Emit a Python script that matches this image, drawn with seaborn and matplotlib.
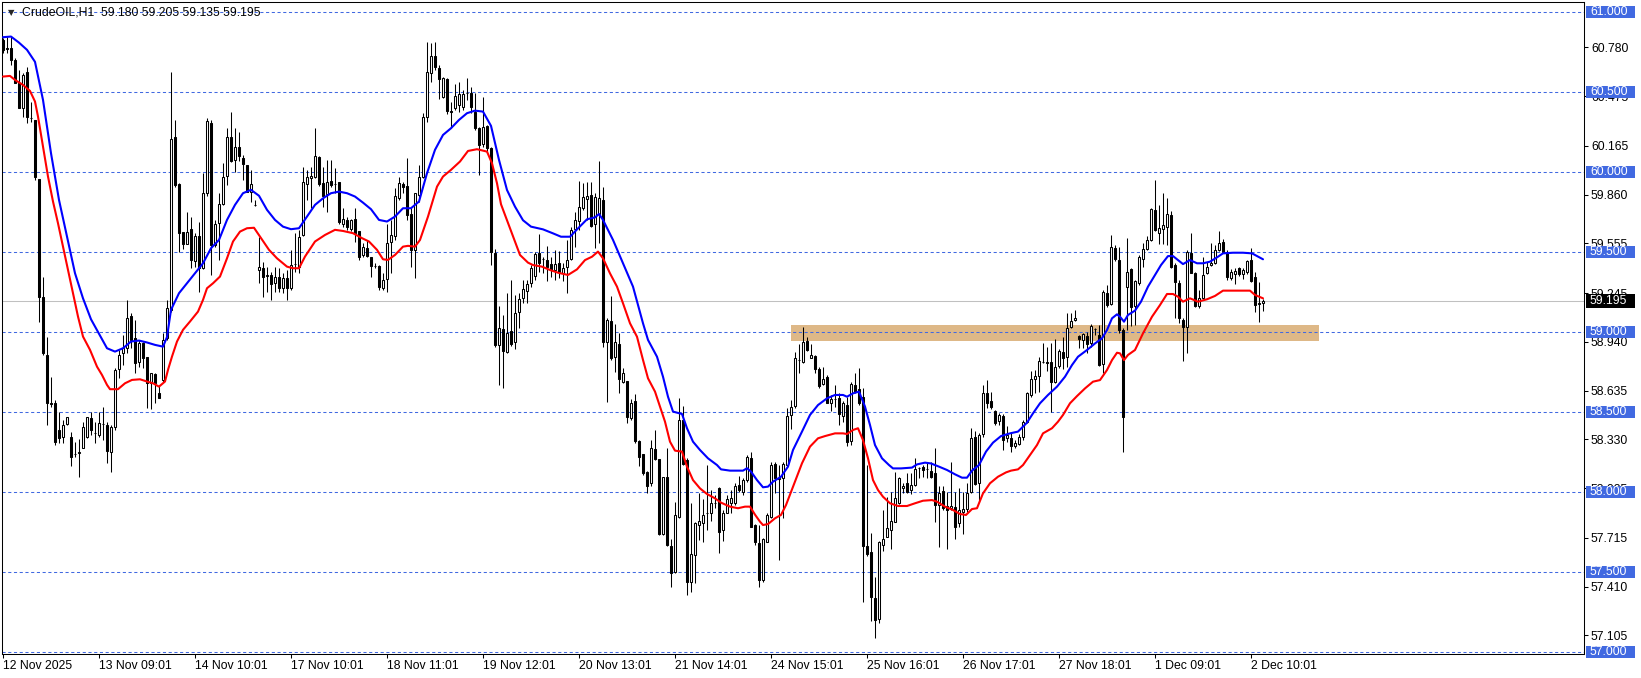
import numpy as np
import pandas as pd
import matplotlib
matplotlib.use("Agg")
import matplotlib.pyplot as plt
from matplotlib.patches import Rectangle
from matplotlib.transforms import blended_transform_factory
import seaborn as sns

symbol = "CrudeOIL,H1"

# H1 candles (one row = 12 bars)
opens = [
    60.827, 60.775, 60.775, 60.702, 60.556, 60.400, 60.629, 60.340, 60.327, 59.956, 59.223, 58.858,
    58.556, 58.556, 58.390, 58.344, 58.425, 58.348, 58.240, 58.244, 58.275, 58.344, 58.462, 58.373,
    58.358, 58.425, 58.421, 58.254, 58.410, 58.769, 58.869, 58.900, 59.102, 58.962, 58.817, 58.931,
    58.844, 58.681, 58.740, 58.619, 58.702, 58.962, 59.140, 60.219, 59.925, 59.625, 59.550, 59.644,
    59.448, 59.602, 59.400, 59.873, 60.306, 59.546, 59.681, 59.800, 59.977, 60.223, 60.077, 60.160,
    60.092, 60.046, 59.879, 59.796, 59.390, 59.400, 59.350, 59.358, 59.306, 59.348, 59.275, 59.337,
    59.275, 59.425, 59.410, 59.608, 59.925, 59.962, 59.973, 60.094, 59.931, 59.864, 59.948, 59.925,
    59.937, 59.675, 59.702, 59.644, 59.706, 59.630, 59.483, 59.525, 59.473, 59.415, 59.417, 59.275,
    59.331, 59.567, 59.602, 59.837, 59.927, 59.917, 59.740, 59.515, 59.858, 59.973, 60.348, 60.619,
    60.729, 60.654, 60.473, 60.581, 60.385, 60.400, 60.421, 60.406, 60.498, 60.498, 60.379, 60.275,
    60.175, 60.290, 60.150, 59.498, 58.921, 59.019, 58.875, 59.008, 58.937, 59.124, 59.212, 59.260,
    59.306, 59.354, 59.493, 59.456, 59.451, 59.424, 59.389, 59.431, 59.372, 59.406, 59.456, 59.643,
    59.695, 59.774, 59.831, 59.858, 59.674, 59.737, 59.826, 58.941, 59.070, 58.843, 58.926, 58.691,
    58.695, 58.462, 58.570, 58.322, 58.239, 58.129, 58.056, 58.270, 58.206, 57.737, 58.097, 57.664,
    57.504, 57.847, 58.451, 58.201, 57.437, 57.608, 57.795, 57.806, 57.868, 57.868, 57.935, 58.024,
    57.764, 57.872, 57.935, 57.931, 58.045, 58.004, 58.076, 58.212, 57.795, 57.681, 57.451, 57.691,
    57.847, 58.174, 58.080, 58.087, 58.170, 58.483, 58.539, 58.826, 58.812, 58.945, 58.841, 58.851,
    58.768, 58.674, 58.718, 58.560, 58.581, 58.587, 58.477, 58.545, 58.322, 58.670, 58.643, 58.597,
    57.666, 57.624, 57.337, 57.210, 57.670, 57.722, 57.764, 57.816, 57.931, 58.024, 58.056, 58.014,
    58.045, 58.149, 58.156, 58.143, 58.135, 58.122, 57.920, 58.008, 57.914, 57.899, 57.906, 57.806,
    57.879, 57.893, 58.004, 58.343, 58.056, 58.364, 58.618, 58.570, 58.508, 58.445, 58.478, 58.337,
    58.337, 58.291, 58.301, 58.343, 58.441, 58.608, 58.706, 58.726, 58.816, 58.816, 58.816, 58.691,
    58.789, 58.875, 58.843, 59.035, 59.076, 58.977, 58.952, 58.977, 58.931, 59.020, 58.983, 58.801,
    59.247, 59.177, 59.529, 59.451, 59.014, 59.285, 59.393, 59.164, 59.306, 59.456, 59.520, 59.576,
    59.764, 59.618, 59.643, 59.660, 59.733, 59.420, 59.306, 59.076, 59.035, 59.497, 59.368, 59.164,
    59.212, 59.368, 59.420, 59.431, 59.514, 59.566, 59.504, 59.337, 59.364, 59.399, 59.362, 59.374,
    59.451, 59.343, 59.174, 59.180,
]
highs = [
    60.837, 60.848, 60.848, 60.712, 60.640, 60.619, 60.660, 60.442, 60.327, 59.956, 59.348, 58.973,
    58.723, 58.577, 58.504, 58.452, 58.473, 58.375, 58.317, 58.331, 58.438, 58.473, 58.504, 58.442,
    58.504, 58.535, 58.442, 58.421, 58.775, 58.890, 58.983, 59.202, 59.119, 59.077, 58.952, 58.942,
    58.848, 58.748, 58.748, 58.671, 58.994, 59.202, 60.629, 60.327, 59.931, 59.625, 59.750, 59.723,
    59.619, 59.692, 59.994, 60.338, 60.327, 59.702, 59.869, 60.056, 60.275, 60.375, 60.275, 60.254,
    60.108, 60.046, 60.015, 59.827, 59.598, 59.442, 59.410, 59.379, 59.410, 59.400, 59.369, 59.390,
    59.514, 59.619, 59.640, 60.035, 60.015, 60.035, 60.275, 60.102, 60.035, 60.077, 60.077, 60.025,
    59.942, 59.775, 59.723, 59.706, 59.775, 59.630, 59.556, 59.577, 59.473, 59.431, 59.421, 59.369,
    59.677, 59.702, 59.900, 59.969, 59.942, 60.087, 59.785, 59.873, 60.046, 60.369, 60.817, 60.806,
    60.817, 60.671, 60.598, 60.587, 60.442, 60.552, 60.567, 60.514, 60.587, 60.535, 60.494, 60.285,
    60.469, 60.296, 60.160, 59.519, 59.161, 59.108, 59.244, 59.326, 59.233, 59.243, 59.326, 59.326,
    59.420, 59.504, 59.614, 59.472, 59.539, 59.472, 59.514, 59.508, 59.431, 59.577, 59.660, 59.754,
    59.945, 59.931, 59.941, 59.937, 59.870, 60.070, 59.910, 59.087, 59.229, 59.049, 58.993, 58.774,
    58.697, 58.581, 58.614, 58.326, 58.239, 58.135, 58.326, 58.389, 58.206, 58.097, 58.274, 57.705,
    57.941, 58.587, 58.541, 58.212, 57.931, 57.816, 57.993, 57.956, 58.170, 58.014, 57.983, 58.031,
    57.889, 57.983, 58.014, 58.056, 58.101, 58.087, 58.233, 58.249, 57.800, 57.795, 57.712, 57.868,
    58.191, 58.191, 58.170, 58.191, 58.529, 58.577, 58.874, 58.926, 59.035, 58.972, 58.926, 58.858,
    58.781, 58.785, 58.733, 58.608, 58.670, 58.618, 58.572, 58.597, 58.687, 58.747, 58.774, 58.649,
    58.170, 57.743, 57.472, 57.695, 57.889, 57.972, 58.004, 58.129, 58.097, 58.056, 58.118, 58.118,
    58.216, 58.160, 58.170, 58.191, 58.191, 58.274, 58.039, 58.039, 58.004, 58.191, 58.000, 58.024,
    58.004, 58.056, 58.399, 58.385, 58.368, 58.670, 58.701, 58.629, 58.514, 58.493, 58.489, 58.414,
    58.379, 58.326, 58.364, 58.451, 58.629, 58.760, 58.764, 58.847, 58.935, 58.910, 58.935, 58.956,
    58.893, 58.972, 59.118, 59.122, 59.139, 58.983, 58.997, 59.003, 59.049, 59.025, 59.045, 59.264,
    59.295, 59.608, 59.545, 59.535, 59.024, 59.587, 59.399, 59.327, 59.483, 59.556, 59.601, 59.774,
    59.951, 59.795, 59.872, 59.841, 59.760, 59.431, 59.327, 59.087, 59.514, 59.618, 59.379, 59.264,
    59.472, 59.441, 59.556, 59.545, 59.633, 59.581, 59.514, 59.393, 59.399, 59.410, 59.399, 59.451,
    59.524, 59.379, 59.316, 59.205,
]
lows = [
    60.744, 60.744, 60.671, 60.556, 60.400, 60.348, 60.306, 60.317, 59.952, 59.067, 58.858, 58.421,
    58.535, 58.296, 58.306, 58.306, 58.421, 58.167, 58.223, 58.094, 58.275, 58.337, 58.358, 58.306,
    58.348, 58.327, 58.185, 58.125, 58.390, 58.712, 58.796, 58.869, 58.900, 58.744, 58.785, 58.775,
    58.525, 58.519, 58.556, 58.587, 58.692, 58.952, 59.129, 59.910, 59.504, 59.519, 59.550, 59.400,
    59.410, 59.254, 59.394, 59.852, 59.358, 59.535, 59.452, 59.796, 59.921, 60.067, 60.004, 60.073,
    59.952, 59.879, 59.817, 59.790, 59.306, 59.223, 59.254, 59.202, 59.254, 59.254, 59.244, 59.202,
    59.265, 59.379, 59.369, 59.602, 59.827, 59.775, 59.962, 59.917, 59.785, 59.750, 59.910, 59.869,
    59.677, 59.660, 59.640, 59.635, 59.567, 59.452, 59.473, 59.473, 59.348, 59.400, 59.265, 59.265,
    59.254, 59.369, 59.577, 59.827, 59.869, 59.702, 59.406, 59.338, 59.817, 59.962, 60.317, 60.567,
    60.640, 60.456, 60.462, 60.365, 60.275, 60.390, 60.379, 60.390, 60.452, 60.373, 60.265, 59.983,
    60.160, 60.119, 59.421, 58.910, 58.671, 58.650, 58.869, 58.914, 58.893, 59.024, 59.181, 59.181,
    59.285, 59.326, 59.379, 59.368, 59.322, 59.347, 59.326, 59.337, 59.322, 59.247, 59.451, 59.535,
    59.639, 59.764, 59.701, 59.660, 59.524, 59.556, 58.906, 58.566, 58.826, 58.754, 58.622, 58.681,
    58.435, 58.451, 58.306, 58.166, 58.108, 57.993, 58.041, 58.201, 57.733, 57.733, 57.666, 57.406,
    57.497, 57.841, 58.170, 57.358, 57.379, 57.431, 57.701, 57.691, 57.764, 57.822, 57.899, 57.618,
    57.697, 57.868, 57.868, 57.920, 58.004, 57.983, 58.066, 57.785, 57.670, 57.406, 57.441, 57.687,
    57.837, 57.997, 57.577, 57.837, 58.160, 58.395, 58.524, 58.743, 58.806, 58.883, 58.837, 58.747,
    58.649, 58.670, 58.556, 58.508, 58.535, 58.420, 58.441, 58.289, 58.295, 58.618, 58.545, 57.312,
    57.601, 57.197, 57.087, 57.185, 57.635, 57.718, 57.643, 57.812, 57.926, 57.993, 57.993, 57.989,
    58.039, 58.091, 58.097, 58.087, 58.087, 57.816, 57.656, 57.889, 57.643, 57.889, 57.706, 57.785,
    57.739, 57.879, 57.993, 58.045, 57.941, 58.347, 58.524, 58.518, 58.420, 58.420, 58.264, 58.316,
    58.254, 58.274, 58.295, 58.326, 58.435, 58.597, 58.622, 58.629, 58.806, 58.758, 58.504, 58.681,
    58.774, 58.768, 58.785, 59.024, 59.072, 58.899, 58.904, 58.868, 58.910, 58.983, 58.789, 58.747,
    59.160, 59.170, 59.447, 58.994, 58.254, 59.014, 59.039, 59.045, 59.295, 59.410, 59.514, 59.572,
    59.635, 59.551, 59.551, 59.545, 59.399, 59.087, 59.056, 58.822, 58.872, 59.368, 59.156, 59.149,
    59.208, 59.364, 59.414, 59.427, 59.510, 59.493, 59.326, 59.326, 59.301, 59.352, 59.331, 59.364,
    59.316, 59.124, 59.066, 59.135,
]
closes = [
    60.765, 60.770, 60.702, 60.556, 60.400, 60.608, 60.348, 60.337, 59.973, 59.223, 58.869, 58.556,
    58.550, 58.317, 58.337, 58.421, 58.469, 58.219, 58.240, 58.254, 58.410, 58.469, 58.390, 58.373,
    58.431, 58.425, 58.260, 58.406, 58.765, 58.858, 58.900, 59.087, 58.952, 58.806, 58.931, 58.837,
    58.681, 58.744, 58.681, 58.587, 58.952, 59.150, 60.206, 59.921, 59.619, 59.550, 59.625, 59.452,
    59.604, 59.400, 59.869, 60.321, 59.546, 59.675, 59.800, 59.969, 60.223, 60.073, 60.160, 60.102,
    60.052, 59.879, 59.925, 59.796, 59.406, 59.344, 59.355, 59.302, 59.348, 59.275, 59.337, 59.275,
    59.421, 59.425, 59.598, 59.937, 59.969, 59.977, 60.102, 59.925, 59.854, 59.937, 59.921, 59.925,
    59.687, 59.706, 59.660, 59.702, 59.619, 59.473, 59.535, 59.477, 59.417, 59.415, 59.285, 59.327,
    59.556, 59.608, 59.852, 59.935, 59.910, 59.733, 59.515, 59.869, 59.973, 60.348, 60.629, 60.729,
    60.660, 60.581, 60.587, 60.385, 60.375, 60.479, 60.490, 60.490, 60.498, 60.406, 60.275, 60.171,
    60.285, 60.150, 59.504, 58.921, 59.025, 58.883, 58.994, 58.924, 59.118, 59.206, 59.268, 59.301,
    59.404, 59.487, 59.435, 59.456, 59.406, 59.389, 59.424, 59.374, 59.404, 59.451, 59.639, 59.702,
    59.785, 59.843, 59.851, 59.666, 59.847, 59.841, 58.937, 59.077, 58.837, 58.937, 58.706, 58.743,
    58.468, 58.560, 58.322, 58.222, 58.118, 58.041, 58.274, 58.208, 57.739, 58.097, 57.670, 57.493,
    57.858, 58.451, 58.177, 57.441, 57.614, 57.806, 57.820, 57.858, 57.868, 57.931, 57.935, 57.754,
    57.868, 57.956, 57.966, 58.039, 58.014, 58.076, 58.218, 57.785, 57.687, 57.451, 57.706, 57.858,
    58.170, 58.087, 58.090, 58.174, 58.476, 58.531, 58.837, 58.826, 58.937, 58.889, 58.858, 58.768,
    58.664, 58.706, 58.556, 58.583, 58.581, 58.489, 58.556, 58.316, 58.677, 58.629, 58.556, 57.666,
    57.614, 57.343, 57.201, 57.687, 57.706, 57.774, 57.820, 57.962, 58.087, 58.039, 58.000, 58.045,
    58.145, 58.149, 58.139, 58.143, 58.097, 57.920, 57.997, 57.904, 57.889, 57.914, 57.785, 57.889,
    57.895, 57.997, 58.337, 58.052, 58.358, 58.618, 58.556, 58.535, 58.435, 58.483, 58.326, 58.358,
    58.291, 58.310, 58.347, 58.441, 58.618, 58.706, 58.726, 58.822, 58.816, 58.806, 58.687, 58.785,
    58.885, 58.837, 59.029, 59.072, 59.091, 58.956, 58.987, 58.926, 59.041, 59.020, 58.795, 59.254,
    59.170, 59.531, 59.456, 59.014, 58.472, 59.379, 59.160, 59.320, 59.472, 59.518, 59.576, 59.768,
    59.639, 59.649, 59.670, 59.737, 59.406, 59.316, 59.087, 59.035, 59.504, 59.372, 59.164, 59.216,
    59.358, 59.410, 59.435, 59.514, 59.560, 59.499, 59.347, 59.374, 59.385, 59.364, 59.389, 59.445,
    59.322, 59.170, 59.180, 59.195,
]

# time axis labels (every 24 bars)
date_ticks = [0, 24, 48, 72, 96, 120, 144, 168, 192, 216, 240, 264, 288, 312]
date_labels = ["12 Nov 2025", "13 Nov 09:01", "14 Nov 10:01", "17 Nov 10:01", "18 Nov 11:01",
               "19 Nov 12:01", "20 Nov 13:01", "21 Nov 14:01", "24 Nov 15:01", "25 Nov 16:01",
               "26 Nov 17:01", "27 Nov 18:01", "1 Dec 09:01", "2 Dec 10:01"]

# moving average lines
blue_bars = [0, 2, 4, 6, 8, 10, 12, 14, 16, 18, 20, 22, 24, 26, 28, 30, 32, 34, 36, 38, 40, 41, 42,
             44, 46, 48, 50, 52, 54, 56, 58, 60, 62, 64, 66, 68, 70, 72, 74, 76, 78, 80, 82, 84, 86,
             88, 90, 92, 94, 96, 98, 100, 102, 104, 106, 108, 110, 112, 114, 116, 118, 120, 122, 124,
             126, 128, 130, 132, 135, 137.5, 139.5, 141.75, 143.75, 146, 148, 149, 150, 152.5, 155,
             157.5, 160, 161.25, 163.5, 165, 166.25, 167.5, 169.75, 171, 172.5, 174.25, 176.25, 178.5,
             179.5, 181.75, 185, 186, 187, 188.5, 190, 191.25, 192.5, 194.5, 196.25, 197.5, 199.75,
             201.75, 203.75, 206, 208, 210, 211, 212.5, 214, 215.5, 216.75, 218, 219.75, 221.5, 222.5,
             224.5, 227.25, 228.5, 230.5, 232, 234, 236, 238, 239.75, 241, 242.25, 244, 245.75, 247.5,
             249.5, 251.75, 253.75, 256, 257.5, 259.25, 261.25, 263.5, 265.5, 267.25, 268.75, 271, 273,
             274.75, 276, 277.25, 278.5, 279.25, 280.25, 281.25, 283, 284.5, 286.25, 288, 289.5,
             291.25, 292.5, 293.75, 295, 296.75, 298.5, 300, 301.75, 303.5, 305, 307.5, 310, 312.25,
             313.5, 315]
blue_vals = [60.844, 60.848, 60.81, 60.765, 60.69, 60.452, 60.119, 59.827, 59.598, 59.369, 59.212,
             59.081, 58.99, 58.90, 58.879, 58.90, 58.942, 58.948, 58.936, 58.921, 58.91, 58.97, 59.14,
             59.244, 59.306, 59.369, 59.431, 59.525, 59.577, 59.702, 59.796, 59.869, 59.89, 59.853,
             59.765, 59.702, 59.66, 59.644, 59.65, 59.723, 59.796, 59.837, 59.869, 59.879, 59.869,
             59.848, 59.81, 59.769, 59.702, 59.692, 59.723, 59.775, 59.775, 59.817, 59.994, 60.14,
             60.233, 60.275, 60.327, 60.369, 60.385, 60.379, 60.29, 60.077, 59.889, 59.785, 59.70,
             59.66, 59.643, 59.618, 59.597, 59.597, 59.649, 59.706, 59.718, 59.739, 59.702, 59.577,
             59.431, 59.285, 59.056, 58.952, 58.847, 58.722, 58.597, 58.504, 58.489, 58.40, 58.316,
             58.264, 58.212, 58.170, 58.143, 58.135, 58.135, 58.15, 58.129, 58.076, 58.031, 58.035,
             58.066, 58.097, 58.16, 58.264, 58.379, 58.483, 58.545, 58.587, 58.608, 58.608, 58.597,
             58.618, 58.629, 58.535, 58.42, 58.295, 58.212, 58.17, 58.149, 58.149, 58.154, 58.174,
             58.185, 58.18, 58.16, 58.139, 58.112, 58.091, 58.091, 58.135, 58.17, 58.254, 58.31,
             58.351, 58.368, 58.379, 58.435, 58.493, 58.556, 58.608, 58.66, 58.722, 58.795, 58.847,
             58.889, 58.93, 58.962, 59.014, 59.087, 59.112, 59.097, 59.066, 59.108, 59.135, 59.191,
             59.285, 59.358, 59.42, 59.476, 59.476, 59.451, 59.426, 59.451, 59.431, 59.431, 59.441,
             59.468, 59.493, 59.497, 59.497, 59.493, 59.476, 59.456]
red_bars = [0, 1.75, 3, 5, 6.75, 8, 8.75, 10, 11.25, 12.5, 13.75, 15, 16.25, 17.5, 18.75, 20, 21.75,
            23.5, 24.75, 26, 26.75, 28.75, 30.5, 32.25, 34.25, 36, 37.5, 39, 40.5, 41.25, 42.25, 43.5,
            45, 46.75, 48.75, 50, 51, 52.5, 54.25, 56, 57.5, 59.25, 61, 62.75, 64.25, 66.5, 68.5, 71,
            72.5, 74, 75.5, 78, 80.5, 83, 85, 87.5, 89.75, 91.5, 93.5, 95, 96.25, 98, 100, 101.25, 103,
            104.25, 106.25, 108.5, 110, 112, 114.25, 116.25, 118.5, 121, 122.25, 123.5, 124.5, 126, 128,
            129.25, 131.25, 132.5, 134.75, 136.75, 138.75, 141.25, 143.5, 145.5, 147.25, 148.75, 150,
            151.75, 153.5, 155, 156.75, 158.5, 160, 161.25, 163, 164.25, 165.5, 166.75, 168, 169.75,
            171, 172.5, 174.25, 176, 178, 179.5, 181.75, 183.75, 185.5, 186.75, 188, 189.25, 190,
            191.25, 193, 194.5, 195.75, 197.5, 199.75, 201.75, 203.75, 205.5, 208, 210, 211, 212.5,
            213.75, 215, 216.25, 217.5, 218.75, 220, 221.75, 223.75, 226, 228, 230, 232.25, 233.5,
            235.5, 237.5, 239.25, 240.75, 242.25, 243.5, 245, 246.75, 248.75, 250.75, 252, 253.75,
            255, 256.75, 258.5, 260, 262.25, 263.75, 265, 266.75, 268.5, 270.5, 272.5, 274.25, 276,
            277.25, 278.5, 279.25, 280.25, 281.25, 283, 285, 287.25, 289.25, 291, 292.5, 293.75, 295,
            296.75, 298.75, 301, 303, 305, 307.5, 311.75, 313, 315]
red_vals = [60.598, 60.602, 60.577, 60.546, 60.508, 60.442, 60.348, 60.16, 59.973, 59.817, 59.681,
            59.535, 59.39, 59.244, 59.098, 58.973, 58.89, 58.785, 58.733, 58.671, 58.644, 58.644,
            58.681, 58.702, 58.706, 58.692, 58.681, 58.66, 58.692, 58.765, 58.848, 58.942, 59.015,
            59.067, 59.129, 59.202, 59.275, 59.306, 59.348, 59.462, 59.567, 59.629, 59.65, 59.653,
            59.598, 59.515, 59.462, 59.41, 59.40, 59.40, 59.473, 59.567, 59.608, 59.64, 59.633,
            59.619, 59.588, 59.567, 59.515, 59.456, 59.452, 59.483, 59.535, 59.54, 59.535, 59.577,
            59.723, 59.91, 59.973, 60.015, 60.067, 60.133, 60.144, 60.129, 60.056, 59.931, 59.80,
            59.70, 59.566, 59.483, 59.435, 59.42, 59.41, 59.389, 59.372, 59.358, 59.393, 59.451,
            59.472, 59.504, 59.462, 59.368, 59.285, 59.181, 59.056, 58.972, 58.827, 58.712, 58.629,
            58.535, 58.441, 58.316, 58.26, 58.254, 58.16, 58.076, 58.024, 57.989, 57.962, 57.935,
            57.91, 57.90, 57.91, 57.91, 57.86, 57.816, 57.795, 57.801, 57.837, 57.858, 57.92, 58.035,
            58.181, 58.285, 58.337, 58.351, 58.368, 58.368, 58.364, 58.389, 58.40, 58.326, 58.212,
            58.076, 58.014, 57.972, 57.931, 57.914, 57.914, 57.931, 57.947, 57.951, 57.941, 57.91,
            57.889, 57.864, 57.858, 57.895, 57.90, 57.993, 58.056, 58.097, 58.124, 58.135, 58.143,
            58.17, 58.233, 58.295, 58.368, 58.40, 58.441, 58.483, 58.556, 58.601, 58.649, 58.691,
            58.701, 58.764, 58.826, 58.872, 58.868, 58.826, 58.858, 58.889, 58.993, 59.097, 59.17,
            59.239, 59.239, 59.222, 59.191, 59.212, 59.191, 59.206, 59.227, 59.26, 59.26, 59.26,
            59.233, 59.212]

level_prices = [57.0, 57.5, 58.0, 58.5, 59.0, 59.5, 60.0, 60.5, 61.0]
axis_prices = [60.780, 60.475, 60.165, 59.860, 59.555, 59.245, 58.940, 58.635, 58.330, 58.025,
               57.715, 57.410, 57.105]
zone_bars = [197, 329]
zone_prices = [58.947, 59.046]

LEVEL_BLUE = "#4169e1"

sns.set_style("white")
plt.rcParams["font.family"] = ["Liberation Sans", "DejaVu Sans"]

W, H = 1641, 678
fig = plt.figure(figsize=(W / 100, H / 100), dpi=100)
ax = fig.add_axes([2 / W, (H - 654) / H, 1582 / W, 652 / H])

df = pd.DataFrame({"o": opens, "h": highs, "l": lows, "c": closes})
df["bar"] = np.arange(len(df))
up = df["c"] >= df["o"]

# support zone
ax.add_patch(Rectangle((zone_bars[0], zone_prices[0]), zone_bars[1] - zone_bars[0],
                       zone_prices[1] - zone_prices[0], facecolor="#deb887",
                       edgecolor="none", zorder=1))

# horizontal levels + current price line
for p in level_prices:
    ax.axhline(p, color=LEVEL_BLUE, lw=0.75, ls=(0, (3, 2.5)), zorder=1.5)
ax.axhline(closes[-1], color="#c0c0c0", lw=0.75, zorder=1.5)

# candles
ax.vlines(df["bar"], df["l"], df["h"], color="black", lw=0.75, zorder=3)
ax.bar(df["bar"], (df["c"] - df["o"]).abs(), bottom=np.minimum(df["o"], df["c"]),
       width=0.5, color=np.where(up, "white", "black"), edgecolor="black",
       linewidth=0.75, zorder=4)

# moving averages
sns.lineplot(x=blue_bars, y=blue_vals, color="#0000ff", linewidth=1.5, estimator=None,
             ax=ax, zorder=5)
sns.lineplot(x=red_bars, y=red_vals, color="#ff0000", linewidth=1.5, estimator=None,
             ax=ax, zorder=5)

ax.set_xlim(-0.25, 395.25)
ax.set_ylim(56.989, 61.064)

ax.yaxis.tick_right()
ax.set_yticks(axis_prices)
ax.set_yticklabels([f"{p:.3f}" for p in axis_prices])
ax.set_xticks(date_ticks)
ax.set_xticklabels(date_labels, ha="left")
ax.tick_params(axis="y", right=True, left=False, direction="out", length=3, width=0.75,
               pad=2, labelsize=8.8, colors="black")
ax.tick_params(axis="x", bottom=True, direction="out", length=3, width=0.75, pad=1.5,
               labelsize=8.8, colors="black")
ax.set_xlabel("")
ax.set_ylabel("")
for s in ax.spines.values():
    s.set_visible(True)
    s.set_color("black")
    s.set_linewidth(0.75)

# price boxes on the right scale
trans = blended_transform_factory(fig.transFigure, ax.transData)
for p in level_prices:
    ax.add_patch(Rectangle((1586 / W, p - 0.0375), 49 / W, 0.075, transform=trans,
                           facecolor=LEVEL_BLUE, edgecolor="none", clip_on=False, zorder=6))
    ax.text(1590 / W, p, f"{p:.3f}", transform=trans, color="white", fontsize=8.8,
            va="center", ha="left", clip_on=False, zorder=7)
ax.add_patch(Rectangle((1586 / W, closes[-1] - 0.042), 49 / W, 0.084, transform=trans,
                       facecolor="black", edgecolor="none", clip_on=False, zorder=6))
ax.text(1590 / W, closes[-1], f"{closes[-1]:.3f}", transform=trans, color="white",
        fontsize=8.8, va="center", ha="left", clip_on=False, zorder=7)

# header
fig.text(8 / W, 1 - 12.5 / H, "\u25bc", fontsize=6, va="center", ha="left",
         family=["DejaVu Sans"])
fig.text(22 / W, 1 - 12.5 / H,
         f"{symbol}  {opens[-1]:.3f} {highs[-1]:.3f} {lows[-1]:.3f} {closes[-1]:.3f}",
         fontsize=8.8, va="center", ha="left", color="black")

fig.savefig("out.png", dpi=100)
